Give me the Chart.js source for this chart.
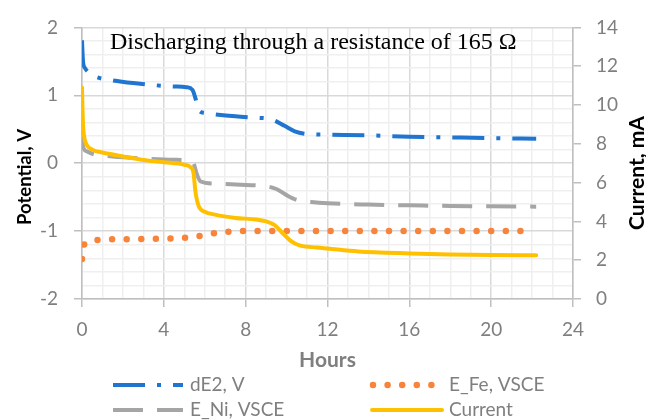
<!DOCTYPE html>
<html>
<head>
<meta charset="utf-8">
<script src="https://cdn.jsdelivr.net/npm/chart.js@4.4.0/dist/chart.umd.min.js"></script>
<style>
    body { margin: 0; background: #ffffff; }
</style>
</head>
<body>
<canvas id="dischargeChart" width="646" height="420"></canvas>
<script>
// values (hours, volts, mA)
const dE2Hours = [0, 0.05, 0.15, 0.4, 0.8, 1.5, 2.5, 3.5, 4.5, 5.1, 5.4, 5.55, 5.7, 6.0, 6.5, 7.5, 8.5, 9.0, 9.4, 9.9, 10.4, 11.0, 12, 14, 16, 18, 20, 22.2];
const dE2Volts = [1.81, 1.50, 1.40, 1.32, 1.26, 1.22, 1.18, 1.15, 1.13, 1.12, 1.08, 0.95, 0.78, 0.74, 0.72, 0.69, 0.67, 0.66, 0.63, 0.55, 0.47, 0.43, 0.42, 0.41, 0.39, 0.38, 0.37, 0.36];

const feHours = [0, 0.1, 0.4, 0.8, 2, 4, 5, 5.8, 6.5, 7.2, 8, 12, 16, 21.5];
const feVolts = [-1.41, -1.20, -1.15, -1.13, -1.12, -1.11, -1.10, -1.07, -1.03, -1.01, -1.0, -1.0, -1.0, -1.0];

const niHours = [0, 0.05, 0.2, 0.6, 1.5, 3, 4.5, 5.2, 5.45, 5.6, 5.8, 6.5, 8, 9.0, 9.5, 10, 10.5, 11.2, 12, 14, 16, 18, 20, 22.2];
const niVolts = [0.48, 0.25, 0.18, 0.13, 0.10, 0.07, 0.05, 0.04, 0.0, -0.15, -0.27, -0.30, -0.32, -0.34, -0.38, -0.47, -0.54, -0.57, -0.59, -0.61, -0.62, -0.63, -0.635, -0.64];

const currentHours = [0, 0.02, 0.05, 0.1, 0.2, 0.5, 1.0, 2, 3, 4, 5, 5.3, 5.45, 5.55, 5.7, 6.0, 6.5, 7.5, 8.5, 9.0, 9.4, 9.8, 10.2, 10.6, 11.5, 12, 13.5, 16, 18, 20, 22.2];
const currentMilliamps = [10.9, 10.0, 9.0, 8.4, 8.0, 7.7, 7.55, 7.35, 7.17, 7.05, 6.92, 6.8, 6.5, 5.5, 4.8, 4.5, 4.35, 4.18, 4.1, 4.0, 3.82, 3.4, 3.0, 2.78, 2.65, 2.6, 2.45, 2.35, 2.30, 2.27, 2.25];

const seriesNames = ['dE2, V', 'E_Fe, VSCE', 'E_Ni, VSCE', 'Current'];
const potentialTicks = [-2, -1, 0, 1, 2];
const hourTicks = [0, 4, 8, 12, 16, 20, 24];
const chartTitle = 'Discharging through a resistance of 165 Ω';

function toPoints(xs, ys) {
    return xs.map((x, i) => ({ x: x, y: ys[i] }));
}

const textGray = '#7f7f7f';
const majorGrid = '#d9d9d9';
const minorGrid = '#efefef';

// titles and legend sit inside/around the plot like the original, drawn on top
const overlayText = {
    id: 'overlayText',
    afterDraw(chart) {
        const ctx = chart.ctx;
        const area = chart.chartArea;
        ctx.save();

        ctx.fillStyle = '#000000';
        ctx.font = '24px "Liberation Serif"';
        ctx.textAlign = 'left';
        ctx.textBaseline = 'alphabetic';
        ctx.fillText(chartTitle, 110, 49);

        ctx.textAlign = 'center';
        ctx.textBaseline = 'middle';
        ctx.font = 'bold 18.5px Lato';
        ctx.save();
        ctx.translate(25, 177);
        ctx.rotate(-Math.PI / 2);
        ctx.fillText('Potential, V', 0, 0);
        ctx.restore();
        ctx.font = 'bold 21px Lato';
        ctx.save();
        ctx.translate(637, 173);
        ctx.rotate(-Math.PI / 2);
        ctx.fillText('Current, mA', 0, 0);
        ctx.restore();

        ctx.fillStyle = textGray;
        ctx.fillText('Hours', (area.left + area.right) / 2, 360);

        // legend, two columns
        const spots = [
            { x1: 113, x2: 183, y: 385, tx: 190 },
            { x1: 373, x2: 433, y: 385, tx: 449 },
            { x1: 113, x2: 183, y: 410, tx: 190 },
            { x1: 372, x2: 442, y: 410, tx: 449 }
        ];
        chart.data.datasets.forEach((ds, i) => {
            const s = spots[i];
            ctx.save();
            ctx.strokeStyle = ds.borderColor;
            ctx.lineWidth = ds.borderWidth;
            ctx.lineCap = ds.borderCapStyle || 'butt';
            ctx.setLineDash(ds.borderDash || []);
            ctx.beginPath();
            ctx.moveTo(s.x1, s.y);
            ctx.lineTo(s.x2, s.y);
            ctx.stroke();
            ctx.restore();
            ctx.font = '19px Lato';
            ctx.fillStyle = textGray;
            ctx.textAlign = 'left';
            ctx.textBaseline = 'middle';
            ctx.fillText(ds.label, s.tx, s.y);
        });
        ctx.restore();
    }
};

const ctx = document.getElementById('dischargeChart').getContext('2d');
const dischargeChart = new Chart(ctx, {
    type: 'line',
    data: {
        datasets: [
            {
                label: seriesNames[0],
                data: toPoints(dE2Hours, dE2Volts),
                yAxisID: 'y',
                borderColor: '#1f75cf',
                borderWidth: 4,
                borderDash: [32, 12, 4, 12],
                borderCapStyle: 'butt',
                order: 3
            },
            {
                label: seriesNames[1],
                data: toPoints(feHours, feVolts),
                yAxisID: 'y',
                borderColor: '#f7843a',
                borderWidth: 6.5,
                borderDash: [0, 14.6],
                borderCapStyle: 'round',
                order: 2
            },
            {
                label: seriesNames[2],
                data: toPoints(niHours, niVolts),
                yAxisID: 'y',
                borderColor: '#a5a5a5',
                borderWidth: 4,
                borderDash: [30, 14],
                borderCapStyle: 'butt',
                order: 1
            },
            {
                label: seriesNames[3],
                data: toPoints(currentHours, currentMilliamps),
                yAxisID: 'y2',
                borderColor: '#ffc000',
                borderWidth: 4,
                borderCapStyle: 'round',
                order: 0
            }
        ]
    },
    options: {
        responsive: false,
        animation: false,
        devicePixelRatio: 1,
        layout: { padding: { top: 23 } },
        elements: {
            point: { radius: 0 },
            line: { cubicInterpolationMode: 'monotone', fill: false }
        },
        plugins: {
            legend: { display: false },
            tooltip: { enabled: false }
        },
        scales: {
            x: {
                type: 'linear',
                min: 0,
                max: 24,
                afterFit: scale => { scale.height = 121; },
                ticks: {
                    stepSize: 1,
                    autoSkip: false,
                    maxRotation: 0,
                    padding: 11,
                    color: textGray,
                    font: { family: 'Lato', size: 19 },
                    callback: v => hourTicks.includes(v) ? String(v) : ''
                },
                grid: {
                    color: c => hourTicks.includes(c.tick.value) ? majorGrid : minorGrid,
                    tickColor: c => hourTicks.includes(c.tick.value) ? '#bfbfbf' : 'rgba(0,0,0,0)',
                    tickLength: 8,
                    lineWidth: 1.5
                },
                border: { color: '#bfbfbf', width: 1.5 }
            },
            y: {
                position: 'left',
                min: -2,
                max: 2,
                afterFit: scale => { scale.width = 82; },
                ticks: {
                    stepSize: 0.2,
                    autoSkip: false,
                    padding: 16,
                    color: textGray,
                    font: { family: 'Lato', size: 19 },
                    callback: v => potentialTicks.includes(Math.round(v * 10) / 10) ? String(Math.round(v)) : ''
                },
                grid: {
                    color: c => potentialTicks.includes(Math.round(c.tick.value * 10) / 10) ? majorGrid : minorGrid,
                    tickColor: c => potentialTicks.includes(Math.round(c.tick.value * 10) / 10) ? '#bfbfbf' : 'rgba(0,0,0,0)',
                    tickLength: 8,
                    lineWidth: 1.5
                },
                border: { color: '#bfbfbf', width: 1.5 }
            },
            y2: {
                position: 'right',
                min: 0,
                max: 14,
                afterFit: scale => { scale.width = 73; },
                ticks: {
                    stepSize: 2,
                    padding: 15,
                    color: textGray,
                    font: { family: 'Lato', size: 19 }
                },
                grid: {
                    drawOnChartArea: false,
                    tickColor: '#bfbfbf',
                    tickLength: 8,
                    lineWidth: 1.5
                },
                border: { color: '#bfbfbf', width: 1.5 }
            }
        }
    },
    plugins: [overlayText]
});
</script>
</body>
</html>
